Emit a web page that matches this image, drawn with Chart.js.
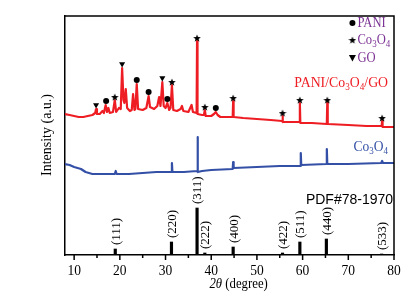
<!DOCTYPE html>
<html lang="en">
<head>
<meta charset="UTF-8">
<title>XRD patterns</title>
<style>
  html, body { margin: 0; padding: 0; background: #fff; }
</style>
<script src="https://cdn.jsdelivr.net/npm/chart.js"></script>
</head>
<body>
<canvas id="xrd" width="413" height="305"></canvas>
<script>
// PANI/Co3O4/GO composite pattern (2theta, intensity a.u.)
const compTheta = [8.0, 9.0, 10.0, 11.0, 12.0, 13.0, 14.0, 14.6, 14.8, 15.0, 15.6, 16.2, 16.5, 16.9, 17.2, 17.5, 17.8, 18.5, 18.9, 19.2,
  19.8, 20.2, 20.5, 20.8, 21.0, 21.3, 21.6, 22.2, 22.6, 22.9, 23.2, 23.4, 23.7, 24.0, 25.0, 25.8, 26.3, 26.6, 27.5, 28.2,
  28.6, 28.9, 29.3, 29.6, 30.0, 30.4, 30.8, 31.1, 31.4, 31.7, 32.5, 33.3, 33.6, 33.9, 35.0, 35.7, 36.0, 36.8, 36.9, 37.0,
  38.0, 38.4, 38.6, 38.8, 40.0, 40.6, 41.0, 41.4, 42.0, 43.0, 44.7, 44.8, 44.9, 47.0, 50.0, 53.0, 55.5, 55.6, 55.7, 58.0,
  59.3, 59.4, 59.5, 62.0, 65.3, 65.4, 65.5, 70.0, 74.0, 77.3, 77.4, 77.5, 80.0];
const compInt = [141, 140, 139, 138, 138, 139, 140, 142, 146, 141, 141, 144, 142, 150, 143, 147, 142, 143, 155, 143,
  147, 146, 187, 155, 152, 166, 147, 144, 145, 161, 145, 146, 171, 146, 145, 147, 159, 148, 146, 149,
  158, 149, 173, 149, 147, 152, 145, 147, 170, 145, 144, 146, 149, 144, 143, 150, 143, 142, 214, 141,
  140, 140, 145, 139, 139, 141, 143, 140, 138, 138, 138, 154, 138, 137, 136, 135, 134, 139, 133, 133,
  133, 152, 132, 132, 131, 153, 131, 130, 129, 129, 134, 128, 128];

// Co3O4 pattern
const co3o4Theta = [8.0, 9.0, 10.0, 11.5, 12.5, 14.0, 16.0, 18.0, 18.9, 19.1, 19.3, 22.0, 25.0, 28.0, 31.3, 31.4, 31.5, 34.0, 36.9, 37.0,
  37.1, 38.0, 40.0, 44.7, 44.8, 44.9, 50.0, 55.0, 59.5, 59.6, 59.7, 65.2, 65.3, 65.4, 70.0, 77.2, 77.4, 77.6, 80.0];
const co3o4Int = [91, 90, 88, 86, 83, 81, 81, 81, 81, 84, 81, 81, 82, 83, 83, 92, 83, 83, 84, 118,
  83, 84, 85, 86, 93, 87, 88, 89, 89, 102, 90, 91, 106, 91, 91, 92, 94, 92, 92];

// reference pattern PDF#78-1970
const refTheta = [19.0, 31.3, 36.9, 38.6, 44.8, 55.6, 59.4, 65.2, 77.3];
const refInt = [6, 13, 47, 2, 8, 2, 13, 16, 1];
const refHkl = ['(111)', '(220)', '(311)', '(222)', '(400)', '(422)', '(511)', '(440)', '(533)'];

// phase markers on the composite curve
const paniTheta = [17.0, 23.7, 26.3, 30.4, 41.0];
const paniInt = [154, 175, 163, 156, 147];
const starTheta = [18.9, 31.4, 36.9, 38.6, 44.8, 55.6, 59.4, 65.4, 77.4];
const starInt = [158, 173, 217, 148, 157, 142, 155, 155, 137];
const goTheta = [14.8, 20.5, 29.3];
const goInt = [150, 191, 177];

const xTicks = [10, 20, 30, 40, 50, 60, 70, 80];

const SERIF = '"Liberation Serif", "Times New Roman", serif';
const SANS = '"Liberation Sans", Arial, sans-serif';
const RED = '#ee1d23';
const BLUE = '#3450a6';
const PURPLE = '#7b3294';

function pts(xs, ys) {
  return xs.map((x, i) => ({ x: x, y: ys[i] }));
}

function starImage(size) {
  const c = document.createElement('canvas');
  c.width = c.height = size;
  const g = c.getContext('2d');
  g.beginPath();
  for (let i = 0; i < 10; i++) {
    const r = i % 2 ? size * 0.21 : size / 2;
    const a = -Math.PI / 2 + i * Math.PI / 5;
    g.lineTo(size / 2 + r * Math.cos(a), size / 2 + r * Math.sin(a) + size * 0.05);
  }
  g.closePath();
  g.fillStyle = '#000';
  g.fill();
  return c;
}
const star = starImage(8);

// draw text made of parts: [text, 'sub' | 'it' | '']
function rich(ctx, parts, x, y, size, family, color, align, squish) {
  const fonts = parts.map(p => (p[1] === 'it' ? 'italic ' : '') + (p[1] === 'sub' ? Math.round(size * 0.68) : size) + 'px ' + family);
  let w = 0;
  const ws = parts.map((p, i) => { ctx.font = fonts[i]; const m = ctx.measureText(p[0]).width; w += m; return m; });
  w *= squish;
  let x0 = align === 'right' ? x - w : align === 'center' ? x - w / 2 : x;
  ctx.save();
  ctx.translate(x0, y);
  ctx.scale(squish, 1);
  ctx.fillStyle = color;
  ctx.textBaseline = 'middle';
  ctx.textAlign = 'left';
  let cx = 0;
  parts.forEach((p, i) => {
    ctx.font = fonts[i];
    ctx.fillText(p[0], cx, p[1] === 'sub' ? size * 0.3 : 0);
    cx += ws[i];
  });
  ctx.restore();
}

const decor = {
  id: 'decor',
  afterDraw(chart) {
    const ctx = chart.ctx;
    const xs = chart.scales.x, ys = chart.scales.y;
    const ca = chart.chartArea;
    ctx.save();
    // box top and right
    ctx.strokeStyle = '#000';
    ctx.lineWidth = 1.5;
    ctx.beginPath();
    ctx.moveTo(ca.left, ca.top);
    ctx.lineTo(ca.right, ca.top);
    ctx.lineTo(ca.right, ca.bottom);
    ctx.stroke();
    // x ticks, major and minor
    for (let v = 10; v <= 80; v += 5) {
      const px = xs.getPixelForValue(v);
      ctx.beginPath();
      ctx.moveTo(px, ca.bottom);
      ctx.lineTo(px, ca.bottom + (v % 10 === 0 ? 5 : 3));
      ctx.stroke();
    }
    xTicks.forEach(v => {
      rich(ctx, [[String(v), '']], xs.getPixelForValue(v), ca.bottom + 16, 15, SERIF, '#000', 'center', 0.9);
    });
    // axis titles
    rich(ctx, [['2', 'it'], ['θ', 'it'], [' (degree)', '']], xs.getPixelForValue(46), ca.bottom + 29, 15, SERIF, '#000', 'center', 0.85);
    ctx.save();
    ctx.translate(47, ys.getPixelForValue(120));
    ctx.rotate(-Math.PI / 2);
    rich(ctx, [['Intensity (a.u.)', '']], 0, 0, 14, SERIF, '#000', 'center', 1);
    ctx.restore();
    // hkl labels of reference lines
    refTheta.forEach((t, i) => {
      ctx.save();
      ctx.translate(xs.getPixelForValue(t) + 1, ys.getPixelForValue(refInt[i] + 4));
      ctx.rotate(-Math.PI / 2);
      rich(ctx, [[refHkl[i], '']], 0, 0, 13, SERIF, '#000', 'left', 1);
      ctx.restore();
    });
    rich(ctx, [['PDF#78-1970', '']], xs.getPixelForValue(79.8), ys.getPixelForValue(55), 14, SANS, '#000', 'right', 1);
    // curve names
    rich(ctx, [['PANI/Co', ''], ['3', 'sub'], ['O', ''], ['4', 'sub'], ['/GO', '']],
      xs.getPixelForValue(78.7), ys.getPixelForValue(172), 15, SERIF, RED, 'right', 0.92);
    rich(ctx, [['Co', ''], ['3', 'sub'], ['O', ''], ['4', 'sub']],
      xs.getPixelForValue(78.7), ys.getPixelForValue(108), 15, SERIF, BLUE, 'right', 0.9);
    // phase legend
    const lx = xs.getPixelForValue(70.9), tx = xs.getPixelForValue(72.0);
    const ly = [232, 215, 197].map(v => ys.getPixelForValue(v));
    ctx.fillStyle = '#000';
    ctx.beginPath();
    ctx.arc(lx, ly[0], 3, 0, Math.PI * 2);
    ctx.fill();
    ctx.drawImage(star, lx - 4, ly[1] - 4);
    ctx.beginPath();
    ctx.moveTo(lx - 3.5, ly[2] - 3);
    ctx.lineTo(lx + 3.5, ly[2] - 3);
    ctx.lineTo(lx, ly[2] + 3.5);
    ctx.closePath();
    ctx.fill();
    rich(ctx, [['PANI', '']], tx, ly[0], 14, SERIF, PURPLE, 'left', 0.9);
    rich(ctx, [['Co', ''], ['3', 'sub'], ['O', ''], ['4', 'sub']], tx, ly[1], 14, SERIF, PURPLE, 'left', 0.9);
    rich(ctx, [['GO', '']], tx, ly[2], 14, SERIF, PURPLE, 'left', 0.9);
    ctx.restore();
  }
};

new Chart(document.getElementById('xrd'), {
  type: 'line',
  data: {
    datasets: [
      { label: 'PANI', data: pts(paniTheta, paniInt), showLine: false, pointStyle: 'circle', pointRadius: 3,
        backgroundColor: '#000', borderColor: '#000', borderWidth: 0, order: 0 },
      { label: 'Co3O4 phase', data: pts(starTheta, starInt), showLine: false, pointStyle: star, pointRadius: 4, order: 0 },
      { label: 'GO', data: pts(goTheta, goInt), showLine: false, pointStyle: 'triangle', rotation: 180, pointRadius: 3.5,
        backgroundColor: '#000', borderColor: '#000', borderWidth: 0, order: 0 },
      { label: 'PANI/Co3O4/GO', data: pts(compTheta, compInt), borderColor: RED, borderWidth: 2.2, borderJoinStyle: 'round',
        pointRadius: 0, tension: 0, order: 1 },
      { label: 'Co3O4', data: pts(co3o4Theta, co3o4Int), borderColor: BLUE, borderWidth: 2.2, borderJoinStyle: 'round',
        pointRadius: 0, tension: 0, order: 1 },
      { type: 'bar', label: 'PDF#78-1970', data: pts(refTheta, refInt), backgroundColor: '#000', barThickness: 2.5,
        grouped: false, order: 2 }
    ]
  },
  options: {
    responsive: false,
    devicePixelRatio: 1,
    animation: false,
    layout: { padding: { top: 16, right: 19, left: 0, bottom: 0 } },
    plugins: { legend: { display: false }, tooltip: { enabled: false } },
    scales: {
      x: {
        type: 'linear', min: 8, max: 80, offset: false,
        grid: { display: false, offset: false },
        border: { color: '#000', width: 1.5 },
        ticks: { display: false },
        afterFit: s => { s.height = 50; }
      },
      y: {
        min: 0, max: 239,
        grid: { display: false },
        border: { color: '#000', width: 1.5 },
        ticks: { display: false },
        afterFit: s => { s.width = 65; }
      }
    }
  },
  plugins: [decor]
});
</script>
</body>
</html>
